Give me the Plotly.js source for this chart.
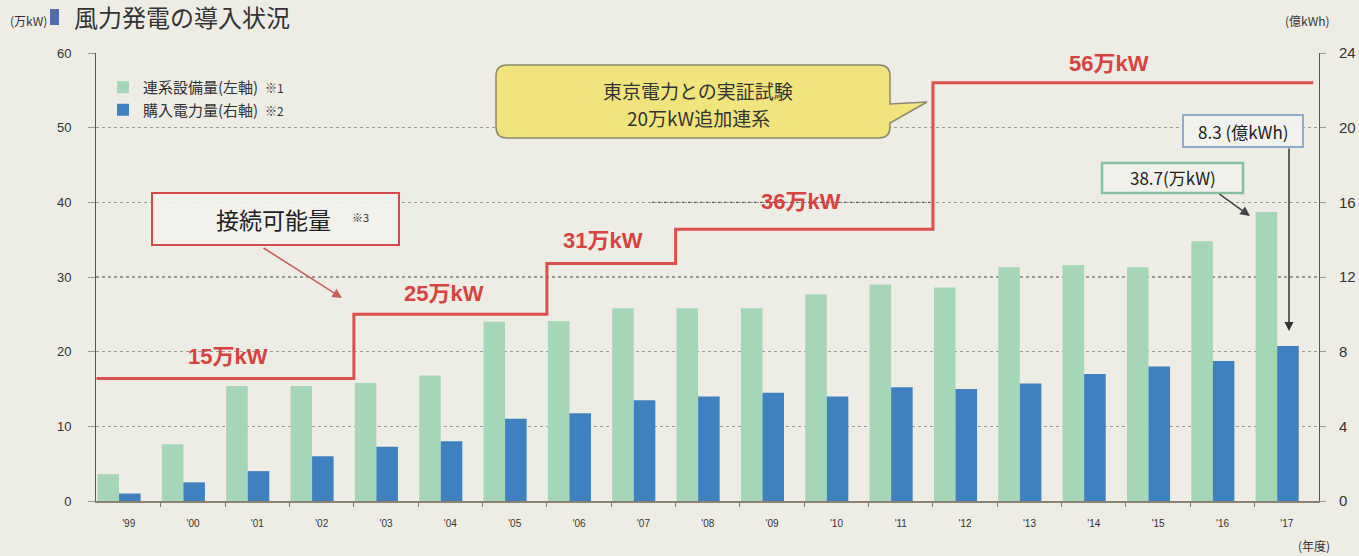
<!DOCTYPE html>
<html><head><meta charset="utf-8">
<script src="https://cdn.plot.ly/plotly-3.0.1.min.js"></script>
<style>html,body{margin:0;padding:0;background:#eeede5;} #chart{width:1359px;height:556px;}</style>
</head><body><div id="chart"></div>
<script>
// ---- data ----
const years = ["'99","'00","'01","'02","'03","'04","'05","'06","'07","'08","'09","'10","'11","'12","'13","'14","'15","'16","'17"];
// 連系設備量 (万kW, 左軸)
const capacity = [3.6, 7.6, 15.4, 15.4, 15.8, 16.8, 24.0, 24.1, 25.8, 25.8, 25.8, 27.7, 29.0, 28.6, 31.3, 31.6, 31.3, 34.8, 38.7];
// 購入電力量 (億kWh, 右軸)
const purchased = [0.4, 1.0, 1.6, 2.4, 2.9, 3.2, 4.4, 4.7, 5.4, 5.6, 5.8, 5.6, 6.1, 6.0, 6.3, 6.8, 7.2, 7.5, 8.3];
// 接続可能量 (step line, as drawn)
const limitYears = ["'99","'03","'06","'08","'12"];
const limitValues = [16.4, 25.0, 31.8, 36.4, 56.0];
const limitLabels = ["15万kW","25万kW","31万kW","36万kW","56万kW"];
const leftTicks = [0,10,20,30,40,50,60];
const rightTicks = [0,4,8,12,16,20,24];

// ---- geometry helpers (pixel -> paper) ----
const L = 96, R = 1319, T = 53, B = 501;
const P = x => (x - L) / (R - L);
const Q = y => (B - y) / (B - T);

const idx = years.map((_, i) => i);
const BW = 0.335;

// step line points
const lx = [], ly = [];
limitYears.forEach((yr, k) => { lx.push(years.indexOf(yr) - 0.35); ly.push(limitValues[k]); });
lx.push(years.length - 1 + 0.56); ly.push(limitValues[limitValues.length - 1]);

const JP = '"Noto Sans CJK JP", "Noto Sans", sans-serif';
const NUM = '"Liberation Sans", Arial, sans-serif';
const RED = '#d7433f';

const traces = [
  {type:'bar', name:'連系設備量(左軸)  <span style="font-size:12px">※1</span>', x: idx, y: capacity, width: BW, offset: -BW,
   marker:{color:'#a6d6b8'}, yaxis:'y', hoverinfo:'skip'},
  {type:'bar', name:'購入電力量(右軸)  <span style="font-size:12px">※2</span>', x: idx, y: purchased, width: BW, offset: 0,
   marker:{color:'#3f80c0'}, yaxis:'y2', hoverinfo:'skip'},
  {type:'scatter', mode:'lines', x: lx, y: ly, line:{shape:'hv', color:'#d9504c', width:3}, yaxis:'y',
   showlegend:false, hoverinfo:'skip'}
];

// rounded callout path
function calloutPath(x0, y0, x1, y1, r, tail) {
  const p = (x, y) => P(x).toFixed(5) + ',' + Q(y).toFixed(5);
  return 'M' + p(x0 + r, y0) + ' L' + p(x1 - r, y0) + ' Q' + p(x1, y0) + ' ' + p(x1, y0 + r) +
    ' L' + p(x1, tail[0]) + ' L' + p(tail[1], tail[2]) + ' L' + p(x1, tail[3]) +
    ' L' + p(x1, y1 - r) + ' Q' + p(x1, y1) + ' ' + p(x1 - r, y1) +
    ' L' + p(x0 + r, y1) + ' Q' + p(x0, y1) + ' ' + p(x0, y1 - r) +
    ' L' + p(x0, y0 + r) + ' Q' + p(x0, y0) + ' ' + p(x0 + r, y0) + ' Z';
}
function rect(x0, y0, x1, y1, line, fill, w) {
  return {type:'rect', xref:'paper', yref:'paper', x0:P(x0), x1:P(x1), y0:Q(y1), y1:Q(y0),
          line:{color:line, width:w}, fillcolor:fill, layer:'above'};
}

const shapes = [
  // title marker
  {type:'rect', xref:'paper', yref:'paper', x0:P(50), x1:P(59), y0:Q(25), y1:Q(9), line:{width:0}, fillcolor:'#4f6ea8'},
  // darker dotted segment on 40 line
  {type:'line', xref:'paper', yref:'y', x0:P(652), x1:P(930), y0:40, y1:40, line:{color:'#333', width:1, dash:'dot'}, layer:'below'},
  // yellow callout
  {type:'path', xref:'paper', yref:'paper', path: calloutPath(496, 65, 890, 138, 11, [104, 927, 102, 123]),
   fillcolor:'#f1e47c', line:{color:'#8c8a6c', width:1.5}, layer:'above'},
  rect(152, 193, 399, 245, '#d24a4a', 'rgba(242,241,235,0.9)', 2),
  rect(1183, 115, 1303, 147, '#8eaecb', 'rgba(240,241,238,0.95)', 2),
  rect(1102, 163, 1243, 193, '#86c2a2', 'rgba(240,241,236,0.95)', 2.5)
];

const ann = [
  {xref:'paper', yref:'paper', x:P(8), y:Q(20), xanchor:'left', yanchor:'middle', showarrow:false,
   text:'(万kW)', font:{family:JP, size:12, color:'#333'}},
  {xref:'paper', yref:'paper', x:P(1283), y:Q(20), xanchor:'left', yanchor:'middle', showarrow:false,
   text:'(億kWh)', font:{family:JP, size:12, color:'#333'}},
  {xref:'paper', yref:'paper', x:P(1296), y:Q(545), xanchor:'left', yanchor:'middle', showarrow:false,
   text:'(年度)', font:{family:JP, size:12, color:'#333'}},
  // callout text
  {xref:'paper', yref:'paper', x:P(698), y:Q(90), xanchor:'center', yanchor:'middle', showarrow:false,
   text:'東京電力との実証試験', font:{family:JP, size:19, color:'#333'}},
  {xref:'paper', yref:'paper', x:P(698), y:Q(117), xanchor:'center', yanchor:'middle', showarrow:false,
   text:'20万kW追加連系', font:{family:JP, size:19, color:'#333'}},
  // 接続可能量 box text
  {xref:'paper', yref:'paper', x:P(273), y:Q(219), xanchor:'center', yanchor:'middle', showarrow:false,
   text:'接続可能量', font:{family:JP, size:23, color:'#222'}},
  {xref:'paper', yref:'paper', x:P(360), y:Q(217), xanchor:'center', yanchor:'middle', showarrow:false,
   text:'※3', font:{family:JP, size:11, color:'#333'}},
  {xref:'paper', yref:'paper', x:P(1243), y:Q(131), xanchor:'center', yanchor:'middle', showarrow:false,
   text:'8.3 (億kWh)', font:{family:JP, size:17, color:'#222'}},
  {xref:'paper', yref:'paper', x:P(1173), y:Q(178), xanchor:'center', yanchor:'middle', showarrow:false,
   text:'38.7(万kW)', font:{family:JP, size:17, color:'#222'}},
  // arrows
  {xref:'paper', yref:'paper', x:P(342), y:Q(298), ax:-80, ay:-51, text:'', showarrow:true,
   arrowhead:2, arrowsize:1.2, arrowwidth:1.6, arrowcolor:'#c9605c', standoff:0, startstandoff:0},
  {xref:'paper', yref:'paper', x:P(1250), y:Q(216), ax:-32, ay:-23, text:'', showarrow:true,
   arrowhead:2, arrowsize:1.2, arrowwidth:1.6, arrowcolor:'#444', standoff:0, startstandoff:0},
  {xref:'paper', yref:'paper', x:P(1289), y:Q(331), ax:0, ay:-184, text:'', showarrow:true,
   arrowhead:2, arrowsize:1.2, arrowwidth:1.5, arrowcolor:'#333', standoff:0, startstandoff:0}
];
// red step labels
const labelPos = [[228,356],[444,293],[603,240],[801,201],[1109,63]];
limitLabels.forEach((t, k) => ann.push({xref:'paper', yref:'paper', x:P(labelPos[k][0]), y:Q(labelPos[k][1]),
  xanchor:'center', yanchor:'middle', showarrow:false, text:'<b>' + t + '</b>',
  font:{family:'"Liberation Sans", "Noto Sans CJK JP", sans-serif', size:22, color:RED}}));

const layout = {
  width:1359, height:556,
  margin:{l:L, r:1359 - R, t:T, b:556 - B},
  paper_bgcolor:'#eeede5', plot_bgcolor:'#eeede5',
  title:{text:'風力発電の導入状況', font:{family:JP, size:24, color:'#333'}, x:74/1359, xanchor:'left', xref:'container',
         y:1 - 19/556, yanchor:'middle', yref:'container'},
  showlegend:true,
  legend:{x:P(103), y:Q(71), xanchor:'left', yanchor:'top', bgcolor:'rgba(0,0,0,0)', font:{family:JP, size:15, color:'#333'},
          itemwidth:30, tracegroupgap:0},
  xaxis:{range:[-0.358, 18.65], tickvals: idx.map(i => i + 0.15), ticktext: years, ticks:'', showgrid:false, zeroline:false,
         showline:true, linecolor:'#8a8272', linewidth:2, tickfont:{family:NUM, size:10, color:'#333'}, ticklabelstandoff:12,
         minor:{tickvals: idx.slice(1).map(i => i - 0.35), ticks:'outside', ticklen:4, tickcolor:'#777', showgrid:false}},
  yaxis:{range:[0,60], tickvals:leftTicks, showgrid:true, gridcolor:'#9b9a94', griddash:'dot', gridwidth:1.5, zeroline:false,
         showline:true, linecolor:'#555', linewidth:1, ticks:'outside', ticklen:7, tickcolor:'#999',
         tickfont:{family:NUM, size:13, color:'#333'}, ticklabelstandoff:14},
  yaxis2:{range:[0,24], tickvals:rightTicks, overlaying:'y', side:'right', showgrid:false, zeroline:false,
          showline:true, linecolor:'#555', linewidth:1, ticks:'outside', ticklen:6, tickcolor:'#999',
          tickfont:{family:NUM, size:15, color:'#333'}, ticklabelstandoff:10},
  shapes: shapes, annotations: ann, hovermode:false
};
Plotly.newPlot('chart', traces, layout, {staticPlot:true, displayModeBar:false});
</script></body></html>
